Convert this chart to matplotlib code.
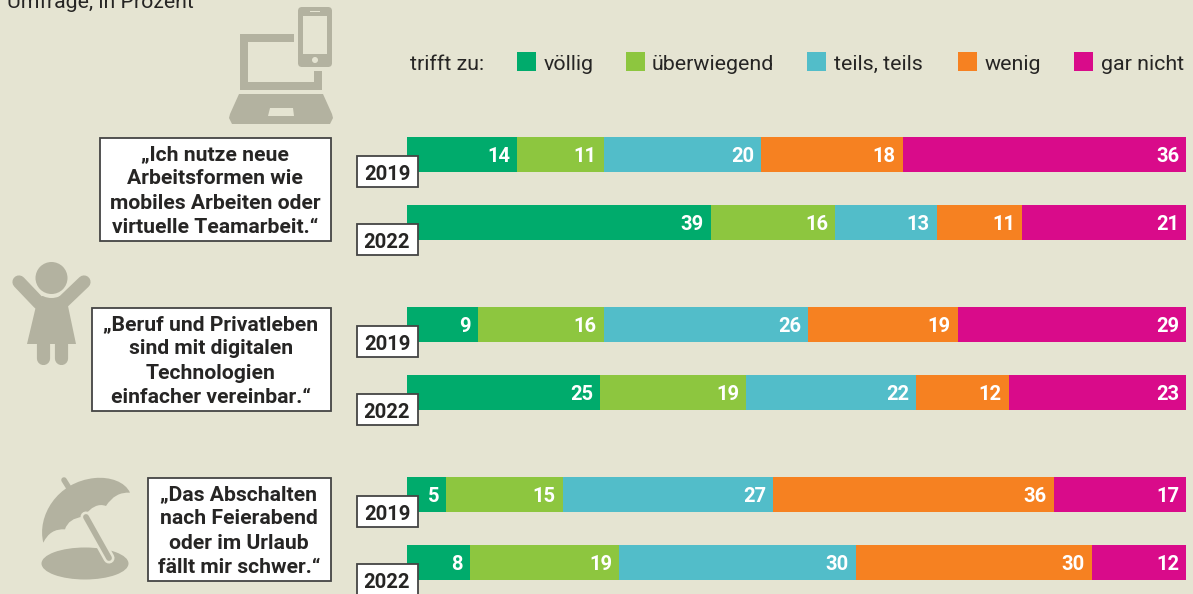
import matplotlib
matplotlib.use("Agg")
import matplotlib.pyplot as plt
import numpy as np
from matplotlib.patches import Rectangle, Circle, Ellipse, Polygon, FancyBboxPatch, PathPatch
from matplotlib.path import Path

W, H = 1193, 594
BG = "#E5E4D2"
ICON = "#B3B2A0"
INK = "#262524"
FONT = "Roboto"

categories = ["völlig", "überwiegend", "teils, teils", "wenig", "gar nicht"]
colors = ["#00AB6C", "#8DC63F", "#52BDC9", "#F68121", "#D90B8A"]
statements = [
    "„Ich nutze neue\nArbeitsformen wie\nmobiles Arbeiten oder\nvirtuelle Teamarbeit.“",
    "„Beruf und Privatleben\nsind mit digitalen\nTechnologien\neinfacher vereinbar.“",
    "„Das Abschalten\nnach Feierabend\noder im Urlaub\nfällt mir schwer.“",
]
years = ["2019", "2022", "2019", "2022", "2019", "2022"]
voellig = [14, 39, 9, 25, 5, 8]
ueberwiegend = [11, 16, 16, 19, 15, 19]
teils = [20, 13, 26, 22, 27, 30]
wenig = [18, 11, 19, 12, 36, 30]
gar_nicht = [36, 21, 29, 23, 17, 12]

series = np.array([voellig, ueberwiegend, teils, wenig, gar_nicht], dtype=float)
totals = series.sum(axis=0)
shares = series / totals * 100

fig = plt.figure(figsize=(W / 100, H / 100), dpi=100, facecolor=BG)
ax = fig.add_axes([407 / W, 0, 779 / W, 1])
ax.set_xlim(0, 100)
ax.set_ylim(H, 0)
ax.axis("off")

tops = [137, 205, 307, 375, 477, 545]
bar_h = 35
centers = [t + bar_h / 2 for t in tops]
left = np.zeros(6)
for i, c in enumerate(colors):
    ax.barh(centers, shares[i], left=left, height=bar_h, color=c, linewidth=0)
    for j in range(6):
        ax.annotate(f"{int(series[i, j])}", (left[j] + shares[i, j], centers[j]),
                    xytext=(-5, -1.8), textcoords="offset points", ha="right", va="center",
                    color="white", fontsize=14.5, fontweight="bold", family=FONT, zorder=5)
    left += shares[i]

ov = fig.add_axes([0, 0, 1, 1], zorder=10)
ov.set_xlim(0, W)
ov.set_ylim(H, 0)
ov.axis("off")
ov.patch.set_alpha(0)

ov.text(7, 7.5, "Umfrage, in Prozent", fontsize=15.3, family=FONT, color=INK, va="baseline", ha="left")

# legend
ov.text(410, 70, "trifft zu:", fontsize=15.4, family=FONT, color=INK, va="baseline", ha="left")
for name, c, sx, tx in zip(categories, colors, [517, 626, 807, 958, 1074], [544, 652, 834, 985, 1101]):
    ov.add_patch(Rectangle((sx, 52), 19, 19, facecolor=c, linewidth=0))
    ov.text(tx, 70, name, fontsize=15.4, family=FONT, color=INK, va="baseline", ha="left")

# statement boxes
for text, (x0, y0, x1, y1) in zip(statements, [(100, 138, 331, 241), (92, 308, 331, 411), (148, 478, 331, 581)]):
    ov.add_patch(Rectangle((x0, y0), x1 - x0, y1 - y0, facecolor="white", edgecolor="#444444", linewidth=1.3))
    ov.text((x0 + x1) / 2 - 0.5, (y0 + y1) / 2 + 1.5, text, ha="center", va="center", multialignment="center",
            fontsize=15.2, fontweight="bold", family=FONT, color=INK, linespacing=1.34)

# year boxes
for y, t in zip(years, tops):
    y0 = t + 18.5
    ov.add_patch(Rectangle((356.5, y0), 61, 31.5, facecolor="white", edgecolor="#444444", linewidth=1.3))
    ov.text(387, y0 + 19, y, ha="center", va="center", fontsize=14.6, fontweight="bold", family=FONT, color=INK)

# laptop + phone icon
ov.add_patch(Polygon([(240, 34), (294, 34), (294, 42), (248, 42), (248, 82), (314, 82), (314, 71), (322, 71),
                      (322, 90), (240, 90)], facecolor=ICON, linewidth=0))
ov.add_patch(FancyBboxPatch((300, 9), 30, 56, boxstyle="round,pad=2,rounding_size=4", facecolor=ICON, linewidth=0))
ov.add_patch(Rectangle((303, 16), 24, 38, facecolor=BG, linewidth=0))
ov.add_patch(Circle((315, 60), 3, facecolor=BG, linewidth=0))
ov.add_patch(Rectangle((310, 10.5), 10, 1.8, facecolor=BG, linewidth=0))
ov.add_patch(Polygon([(239, 94), (323, 94), (332, 114), (333, 118), (330, 124), (232, 124), (229, 118), (230, 114)],
                     facecolor=ICON, linewidth=0))
ov.add_patch(Polygon([(270, 108), (293, 108), (294, 116), (268, 116)], facecolor=BG, linewidth=0))

# child icon
for pts in ([(19, 282), (39, 303)], [(84, 282), (62, 303)]):
    ov.plot(*zip(*pts), color=ICON, lw=9.5, solid_capstyle="round")
ov.add_patch(Polygon([(36, 306), (27, 344), (76, 344), (68, 306), (62, 296), (42, 296)], facecolor=ICON, linewidth=0))
ov.add_patch(Circle((51.5, 278), 20, facecolor=BG, linewidth=0))
ov.add_patch(Circle((51.5, 278), 16, facecolor=ICON, linewidth=0))
for x in (42.5, 60.5):
    ov.plot([x, x], [344, 358], color=ICON, lw=9.5, solid_capstyle="round")

# umbrella icon
ov.add_patch(Ellipse((85, 563.5), 87, 32, facecolor=ICON, linewidth=0))
ov.plot([86, 109], [517, 558], color=BG, lw=8, solid_capstyle="round")
ov.plot([86, 109], [517, 558], color=ICON, lw=4.2, solid_capstyle="round")
ov.plot([64, 69], [480, 488], color=ICON, lw=4, solid_capstyle="round")
verts = [(130, 878), (110, 800), (170, 695), (285, 684), (330, 680), (375, 695), (390, 728),
         (345, 725), (318, 768), (285, 755), (250, 800), (205, 805), (195, 838), (150, 835), (130, 878)]
codes = [Path.MOVETO] + [Path.CURVE4] * 6 + [Path.CURVE3] * 8
ov.add_patch(PathPatch(Path([(a / 3, 250 + b / 3) for a, b in verts], codes), facecolor=ICON, linewidth=0))

fig.savefig("out.png", dpi=100, facecolor=BG)
